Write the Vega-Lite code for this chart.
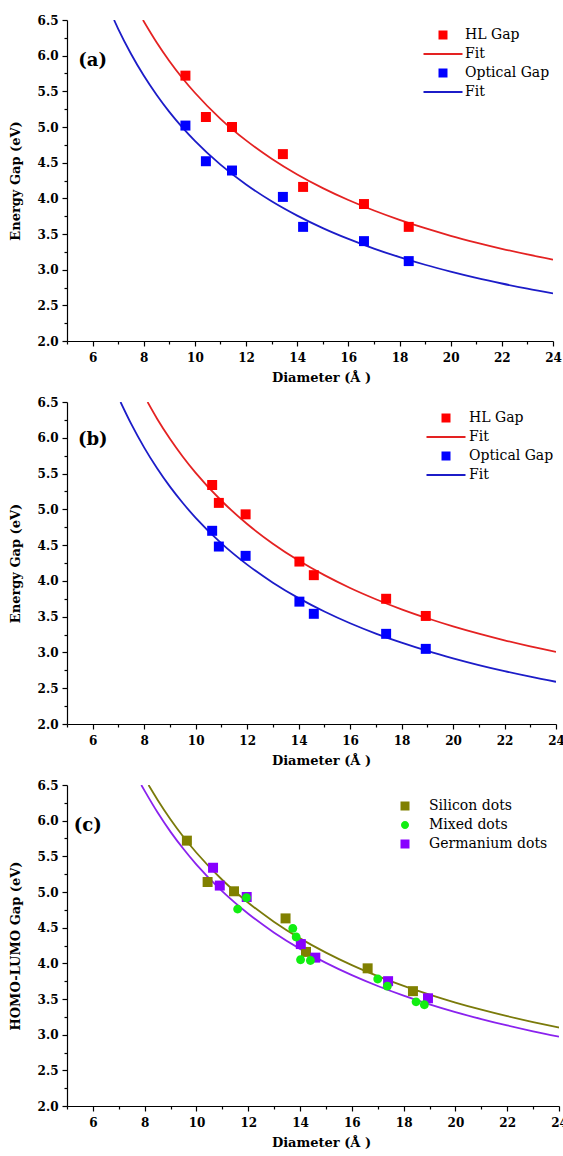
{
  "$schema": "https://vega.github.io/schema/vega-lite/v6.json",
  "padding": {"left": 9, "top": 14, "right": 0, "bottom": 0},
  "background": "white",
  "datasets": {
    "pts": [
      {"panel": "a", "series": "HL Gap", "d": 9.63, "gap": 5.72},
      {"panel": "a", "series": "HL Gap", "d": 10.43, "gap": 5.14},
      {"panel": "a", "series": "HL Gap", "d": 11.45, "gap": 5.0},
      {"panel": "a", "series": "HL Gap", "d": 13.44, "gap": 4.62},
      {"panel": "a", "series": "HL Gap", "d": 14.23, "gap": 4.16},
      {"panel": "a", "series": "HL Gap", "d": 16.61, "gap": 3.92},
      {"panel": "a", "series": "HL Gap", "d": 18.36, "gap": 3.6},
      {"panel": "a", "series": "Optical Gap", "d": 9.63, "gap": 5.02},
      {"panel": "a", "series": "Optical Gap", "d": 10.43, "gap": 4.52},
      {"panel": "a", "series": "Optical Gap", "d": 11.45, "gap": 4.39},
      {"panel": "a", "series": "Optical Gap", "d": 13.44, "gap": 4.02},
      {"panel": "a", "series": "Optical Gap", "d": 14.23, "gap": 3.6},
      {"panel": "a", "series": "Optical Gap", "d": 16.61, "gap": 3.4},
      {"panel": "a", "series": "Optical Gap", "d": 18.36, "gap": 3.12},
      {"panel": "b", "series": "HL Gap", "d": 10.64, "gap": 5.34},
      {"panel": "b", "series": "HL Gap", "d": 10.9, "gap": 5.09},
      {"panel": "b", "series": "HL Gap", "d": 11.94, "gap": 4.93},
      {"panel": "b", "series": "HL Gap", "d": 14.03, "gap": 4.27},
      {"panel": "b", "series": "HL Gap", "d": 14.59, "gap": 4.08},
      {"panel": "b", "series": "HL Gap", "d": 17.4, "gap": 3.75},
      {"panel": "b", "series": "HL Gap", "d": 18.94, "gap": 3.51},
      {"panel": "b", "series": "Optical Gap", "d": 10.64, "gap": 4.7},
      {"panel": "b", "series": "Optical Gap", "d": 10.9, "gap": 4.48},
      {"panel": "b", "series": "Optical Gap", "d": 11.94, "gap": 4.35},
      {"panel": "b", "series": "Optical Gap", "d": 14.03, "gap": 3.71},
      {"panel": "b", "series": "Optical Gap", "d": 14.59, "gap": 3.54},
      {"panel": "b", "series": "Optical Gap", "d": 17.4, "gap": 3.26},
      {"panel": "b", "series": "Optical Gap", "d": 18.94, "gap": 3.05},
      {"panel": "c", "series": "Silicon dots", "d": 9.63, "gap": 5.72},
      {"panel": "c", "series": "Silicon dots", "d": 10.43, "gap": 5.14},
      {"panel": "c", "series": "Silicon dots", "d": 11.45, "gap": 5.01},
      {"panel": "c", "series": "Silicon dots", "d": 13.44, "gap": 4.63},
      {"panel": "c", "series": "Silicon dots", "d": 14.23, "gap": 4.16},
      {"panel": "c", "series": "Silicon dots", "d": 16.61, "gap": 3.93},
      {"panel": "c", "series": "Silicon dots", "d": 18.36, "gap": 3.61},
      {"panel": "c", "series": "Germanium dots", "d": 10.64, "gap": 5.34},
      {"panel": "c", "series": "Germanium dots", "d": 10.9, "gap": 5.09},
      {"panel": "c", "series": "Germanium dots", "d": 11.94, "gap": 4.93},
      {"panel": "c", "series": "Germanium dots", "d": 14.03, "gap": 4.27},
      {"panel": "c", "series": "Germanium dots", "d": 14.59, "gap": 4.08},
      {"panel": "c", "series": "Germanium dots", "d": 17.4, "gap": 3.75},
      {"panel": "c", "series": "Germanium dots", "d": 18.94, "gap": 3.51},
      {"panel": "c", "series": "Mixed dots", "d": 11.59, "gap": 4.76},
      {"panel": "c", "series": "Mixed dots", "d": 11.93, "gap": 4.92},
      {"panel": "c", "series": "Mixed dots", "d": 13.72, "gap": 4.49},
      {"panel": "c", "series": "Mixed dots", "d": 13.85, "gap": 4.37},
      {"panel": "c", "series": "Mixed dots", "d": 14.02, "gap": 4.05},
      {"panel": "c", "series": "Mixed dots", "d": 14.4, "gap": 4.04},
      {"panel": "c", "series": "Mixed dots", "d": 17.0, "gap": 3.78},
      {"panel": "c", "series": "Mixed dots", "d": 17.37, "gap": 3.68},
      {"panel": "c", "series": "Mixed dots", "d": 18.48, "gap": 3.46},
      {"panel": "c", "series": "Mixed dots", "d": 18.8, "gap": 3.42}
    ],
    "fits": [
      {"panel": "a", "series": "Fit_HL", "d": 7.97, "gap": 6.5},
      {"panel": "a", "series": "Fit_HL", "d": 8.5, "gap": 6.188},
      {"panel": "a", "series": "Fit_HL", "d": 9, "gap": 5.926},
      {"panel": "a", "series": "Fit_HL", "d": 9.5, "gap": 5.691},
      {"panel": "a", "series": "Fit_HL", "d": 10, "gap": 5.48},
      {"panel": "a", "series": "Fit_HL", "d": 11, "gap": 5.115},
      {"panel": "a", "series": "Fit_HL", "d": 12, "gap": 4.812},
      {"panel": "a", "series": "Fit_HL", "d": 13, "gap": 4.555},
      {"panel": "a", "series": "Fit_HL", "d": 14, "gap": 4.334},
      {"panel": "a", "series": "Fit_HL", "d": 15, "gap": 4.143},
      {"panel": "a", "series": "Fit_HL", "d": 16, "gap": 3.976},
      {"panel": "a", "series": "Fit_HL", "d": 17, "gap": 3.829},
      {"panel": "a", "series": "Fit_HL", "d": 18, "gap": 3.698},
      {"panel": "a", "series": "Fit_HL", "d": 19, "gap": 3.581},
      {"panel": "a", "series": "Fit_HL", "d": 20, "gap": 3.475},
      {"panel": "a", "series": "Fit_HL", "d": 21, "gap": 3.38},
      {"panel": "a", "series": "Fit_HL", "d": 22, "gap": 3.293},
      {"panel": "a", "series": "Fit_HL", "d": 23, "gap": 3.213},
      {"panel": "a", "series": "Fit_HL", "d": 24, "gap": 3.141},
      {"panel": "a", "series": "Fit_Opt", "d": 6.84, "gap": 6.5},
      {"panel": "a", "series": "Fit_Opt", "d": 7, "gap": 6.376},
      {"panel": "a", "series": "Fit_Opt", "d": 7.5, "gap": 6.027},
      {"panel": "a", "series": "Fit_Opt", "d": 8, "gap": 5.721},
      {"panel": "a", "series": "Fit_Opt", "d": 8.5, "gap": 5.452},
      {"panel": "a", "series": "Fit_Opt", "d": 9, "gap": 5.212},
      {"panel": "a", "series": "Fit_Opt", "d": 9.5, "gap": 4.998},
      {"panel": "a", "series": "Fit_Opt", "d": 10, "gap": 4.805},
      {"panel": "a", "series": "Fit_Opt", "d": 11, "gap": 4.472},
      {"panel": "a", "series": "Fit_Opt", "d": 12, "gap": 4.194},
      {"panel": "a", "series": "Fit_Opt", "d": 13, "gap": 3.959},
      {"panel": "a", "series": "Fit_Opt", "d": 14, "gap": 3.758},
      {"panel": "a", "series": "Fit_Opt", "d": 15, "gap": 3.583},
      {"panel": "a", "series": "Fit_Opt", "d": 16, "gap": 3.431},
      {"panel": "a", "series": "Fit_Opt", "d": 17, "gap": 3.296},
      {"panel": "a", "series": "Fit_Opt", "d": 18, "gap": 3.176},
      {"panel": "a", "series": "Fit_Opt", "d": 19, "gap": 3.069},
      {"panel": "a", "series": "Fit_Opt", "d": 20, "gap": 2.973},
      {"panel": "a", "series": "Fit_Opt", "d": 21, "gap": 2.885},
      {"panel": "a", "series": "Fit_Opt", "d": 22, "gap": 2.806},
      {"panel": "a", "series": "Fit_Opt", "d": 23, "gap": 2.733},
      {"panel": "a", "series": "Fit_Opt", "d": 24, "gap": 2.667},
      {"panel": "b", "series": "Fit_HL", "d": 8.13, "gap": 6.5},
      {"panel": "b", "series": "Fit_HL", "d": 8.5, "gap": 6.267},
      {"panel": "b", "series": "Fit_HL", "d": 9, "gap": 5.987},
      {"panel": "b", "series": "Fit_HL", "d": 9.5, "gap": 5.736},
      {"panel": "b", "series": "Fit_HL", "d": 10, "gap": 5.51},
      {"panel": "b", "series": "Fit_HL", "d": 11, "gap": 5.12},
      {"panel": "b", "series": "Fit_HL", "d": 12, "gap": 4.795},
      {"panel": "b", "series": "Fit_HL", "d": 13, "gap": 4.52},
      {"panel": "b", "series": "Fit_HL", "d": 14, "gap": 4.284},
      {"panel": "b", "series": "Fit_HL", "d": 15, "gap": 4.08},
      {"panel": "b", "series": "Fit_HL", "d": 16, "gap": 3.901},
      {"panel": "b", "series": "Fit_HL", "d": 17, "gap": 3.744},
      {"panel": "b", "series": "Fit_HL", "d": 18, "gap": 3.603},
      {"panel": "b", "series": "Fit_HL", "d": 19, "gap": 3.478},
      {"panel": "b", "series": "Fit_HL", "d": 20, "gap": 3.365},
      {"panel": "b", "series": "Fit_HL", "d": 21, "gap": 3.263},
      {"panel": "b", "series": "Fit_HL", "d": 22, "gap": 3.17},
      {"panel": "b", "series": "Fit_HL", "d": 23, "gap": 3.085},
      {"panel": "b", "series": "Fit_HL", "d": 24, "gap": 3.008},
      {"panel": "b", "series": "Fit_Opt", "d": 7.08, "gap": 6.5},
      {"panel": "b", "series": "Fit_Opt", "d": 7.5, "gap": 6.19},
      {"panel": "b", "series": "Fit_Opt", "d": 8, "gap": 5.863},
      {"panel": "b", "series": "Fit_Opt", "d": 8.5, "gap": 5.574},
      {"panel": "b", "series": "Fit_Opt", "d": 9, "gap": 5.317},
      {"panel": "b", "series": "Fit_Opt", "d": 9.5, "gap": 5.088},
      {"panel": "b", "series": "Fit_Opt", "d": 10, "gap": 4.881},
      {"panel": "b", "series": "Fit_Opt", "d": 11, "gap": 4.524},
      {"panel": "b", "series": "Fit_Opt", "d": 12, "gap": 4.227},
      {"panel": "b", "series": "Fit_Opt", "d": 13, "gap": 3.975},
      {"panel": "b", "series": "Fit_Opt", "d": 14, "gap": 3.759},
      {"panel": "b", "series": "Fit_Opt", "d": 15, "gap": 3.572},
      {"panel": "b", "series": "Fit_Opt", "d": 16, "gap": 3.408},
      {"panel": "b", "series": "Fit_Opt", "d": 17, "gap": 3.264},
      {"panel": "b", "series": "Fit_Opt", "d": 18, "gap": 3.136},
      {"panel": "b", "series": "Fit_Opt", "d": 19, "gap": 3.021},
      {"panel": "b", "series": "Fit_Opt", "d": 20, "gap": 2.918},
      {"panel": "b", "series": "Fit_Opt", "d": 21, "gap": 2.824},
      {"panel": "b", "series": "Fit_Opt", "d": 22, "gap": 2.739},
      {"panel": "b", "series": "Fit_Opt", "d": 23, "gap": 2.661},
      {"panel": "b", "series": "Fit_Opt", "d": 24, "gap": 2.59},
      {"panel": "c", "series": "Si fit", "d": 8.15, "gap": 6.5},
      {"panel": "c", "series": "Si fit", "d": 8.5, "gap": 6.291},
      {"panel": "c", "series": "Si fit", "d": 9, "gap": 6.017},
      {"panel": "c", "series": "Si fit", "d": 9.5, "gap": 5.771},
      {"panel": "c", "series": "Si fit", "d": 10, "gap": 5.55},
      {"panel": "c", "series": "Si fit", "d": 11, "gap": 5.168},
      {"panel": "c", "series": "Si fit", "d": 12, "gap": 4.85},
      {"panel": "c", "series": "Si fit", "d": 13, "gap": 4.581},
      {"panel": "c", "series": "Si fit", "d": 14, "gap": 4.35},
      {"panel": "c", "series": "Si fit", "d": 15, "gap": 4.15},
      {"panel": "c", "series": "Si fit", "d": 16, "gap": 3.975},
      {"panel": "c", "series": "Si fit", "d": 17, "gap": 3.821},
      {"panel": "c", "series": "Si fit", "d": 18, "gap": 3.683},
      {"panel": "c", "series": "Si fit", "d": 19, "gap": 3.561},
      {"panel": "c", "series": "Si fit", "d": 20, "gap": 3.45},
      {"panel": "c", "series": "Si fit", "d": 21, "gap": 3.35},
      {"panel": "c", "series": "Si fit", "d": 22, "gap": 3.259},
      {"panel": "c", "series": "Si fit", "d": 23, "gap": 3.176},
      {"panel": "c", "series": "Si fit", "d": 24, "gap": 3.1},
      {"panel": "c", "series": "Ge fit", "d": 7.87, "gap": 6.5},
      {"panel": "c", "series": "Ge fit", "d": 8, "gap": 6.418},
      {"panel": "c", "series": "Ge fit", "d": 8.5, "gap": 6.114},
      {"panel": "c", "series": "Ge fit", "d": 9, "gap": 5.843},
      {"panel": "c", "series": "Ge fit", "d": 9.5, "gap": 5.602},
      {"panel": "c", "series": "Ge fit", "d": 10, "gap": 5.384},
      {"panel": "c", "series": "Ge fit", "d": 11, "gap": 5.008},
      {"panel": "c", "series": "Ge fit", "d": 12, "gap": 4.695},
      {"panel": "c", "series": "Ge fit", "d": 13, "gap": 4.43},
      {"panel": "c", "series": "Ge fit", "d": 14, "gap": 4.203},
      {"panel": "c", "series": "Ge fit", "d": 15, "gap": 4.006},
      {"panel": "c", "series": "Ge fit", "d": 16, "gap": 3.834},
      {"panel": "c", "series": "Ge fit", "d": 17, "gap": 3.682},
      {"panel": "c", "series": "Ge fit", "d": 18, "gap": 3.547},
      {"panel": "c", "series": "Ge fit", "d": 19, "gap": 3.426},
      {"panel": "c", "series": "Ge fit", "d": 20, "gap": 3.317},
      {"panel": "c", "series": "Ge fit", "d": 21, "gap": 3.219},
      {"panel": "c", "series": "Ge fit", "d": 22, "gap": 3.129},
      {"panel": "c", "series": "Ge fit", "d": 23, "gap": 3.047},
      {"panel": "c", "series": "Ge fit", "d": 24, "gap": 2.973}
    ],
    "labels": [
      {"panel": "a", "d": 6.0, "gap": 5.93, "label": "(a)"},
      {"panel": "b", "d": 6.0, "gap": 5.975, "label": "(b)"},
      {"panel": "c", "d": 5.8, "gap": 5.93, "label": "(c)"}
    ]
  },
  "vconcat": [
    {
      "width": 486, "height": 321,
      "layer": [
        {
          "data": {"name": "fits"},
          "transform": [{"filter": "datum.panel == 'a'"}],
          "mark": {"type": "line", "strokeWidth": 1.8, "interpolate": "monotone", "clip": true},
          "encoding": {
            "x": {"field": "d", "type": "quantitative", "scale": {"domain": [5, 24], "nice": false, "zero": false}, "axis": null},
            "y": {"field": "gap", "type": "quantitative", "scale": {"domain": [2, 6.5], "nice": false, "zero": false}, "axis": null},
            "color": {"field": "series", "type": "nominal",
                      "scale": {"domain": ["HL Gap", "Fit_HL", "Optical Gap", "Fit_Opt"], "range": ["#ff0000", "#e42222", "#0000ff", "#1c1cc8"]},
                      "legend": {"orient": "none", "legendX": 369, "legendY": 8, "title": null, "labelOffset": 15, "labelExpr": "indexof(datum.label, 'Fit') == 0 ? 'Fit' : datum.label"}}
          }
        },
        {
          "data": {"name": "pts"},
          "transform": [{"filter": "datum.panel == 'a'"}],
          "mark": {"type": "point", "filled": true, "size": 123, "opacity": 1, "strokeWidth": 0},
          "encoding": {
            "x": {"field": "d", "type": "quantitative",
                  "axis": {"orient": "bottom", "values": [5, 6, 7, 8, 9, 10, 11, 12, 13, 14, 15, 16, 17, 18, 19, 20, 21, 22, 23, 24], "labelExpr": "datum.value % 2 == 0 ? datum.label : ''", "tickSize": {"condition": {"test": "datum.value % 2 == 1", "value": 3}, "value": 5}, "title": "Diameter (Å )", "titleX": 254}},
            "y": {"field": "gap", "type": "quantitative",
                  "axis": {"orient": "left", "values": [2, 2.25, 2.5, 2.75, 3, 3.25, 3.5, 3.75, 4, 4.25, 4.5, 4.75, 5, 5.25, 5.5, 5.75, 6, 6.25, 6.5], "format": ".1f", "labelExpr": "(datum.value * 2) % 1 == 0 ? datum.label : ''", "tickSize": {"condition": {"test": "(datum.value * 2) % 1 != 0", "value": 3}, "value": 5}, "title": "Energy Gap (eV)"}},
            "color": {"field": "series", "type": "nominal",
                      "scale": {"domain": ["HL Gap", "Fit_HL", "Optical Gap", "Fit_Opt"], "range": ["#ff0000", "#e42222", "#0000ff", "#1c1cc8"]},
                      "legend": {"orient": "none", "legendX": 369, "legendY": 8, "title": null, "labelOffset": 15, "labelExpr": "indexof(datum.label, 'Fit') == 0 ? 'Fit' : datum.label"}},
            "shape": {"field": "series", "type": "nominal",
                      "scale": {"domain": ["HL Gap", "Fit_HL", "Optical Gap", "Fit_Opt"], "range": ["M-0.9,-0.9H0.9V0.9H-0.9Z", "M-3.9,-0.22H3.9V0.22H-3.9Z", "M-0.9,-0.9H0.9V0.9H-0.9Z", "M-3.9,-0.22H3.9V0.22H-3.9Z"]},
                      "legend": {"orient": "none", "legendX": 369, "legendY": 8, "title": null, "labelOffset": 15, "labelExpr": "indexof(datum.label, 'Fit') == 0 ? 'Fit' : datum.label"}}
          }
        },
        {
          "data": {"name": "labels"},
          "transform": [{"filter": "datum.panel == 'a'"}],
          "mark": {"type": "text", "font": "DejaVu Serif", "fontWeight": "bold", "fontSize": 18, "color": "black"},
          "encoding": {
            "x": {"field": "d", "type": "quantitative", "axis": null},
            "y": {"field": "gap", "type": "quantitative", "axis": null},
            "text": {"field": "label"}
          }
        }
      ],
      "resolve": {"axis": {"x": "independent", "y": "independent"}}
    },
    {
      "width": 489, "height": 322,
      "layer": [
        {
          "data": {"name": "fits"},
          "transform": [{"filter": "datum.panel == 'b'"}],
          "mark": {"type": "line", "strokeWidth": 1.8, "interpolate": "monotone", "clip": true},
          "encoding": {
            "x": {"field": "d", "type": "quantitative", "scale": {"domain": [5, 24], "nice": false, "zero": false}, "axis": null},
            "y": {"field": "gap", "type": "quantitative", "scale": {"domain": [2, 6.5], "nice": false, "zero": false}, "axis": null},
            "color": {"field": "series", "type": "nominal",
                      "scale": {"domain": ["HL Gap", "Fit_HL", "Optical Gap", "Fit_Opt"], "range": ["#ff0000", "#e42222", "#0000ff", "#1c1cc8"]},
                      "legend": {"orient": "none", "legendX": 372, "legendY": 9, "title": null, "labelOffset": 16, "labelExpr": "indexof(datum.label, 'Fit') == 0 ? 'Fit' : datum.label"}}
          }
        },
        {
          "data": {"name": "pts"},
          "transform": [{"filter": "datum.panel == 'b'"}],
          "mark": {"type": "point", "filled": true, "size": 123, "opacity": 1, "strokeWidth": 0},
          "encoding": {
            "x": {"field": "d", "type": "quantitative",
                  "axis": {"orient": "bottom", "values": [5, 6, 7, 8, 9, 10, 11, 12, 13, 14, 15, 16, 17, 18, 19, 20, 21, 22, 23, 24], "labelExpr": "datum.value % 2 == 0 ? datum.label : ''", "tickSize": {"condition": {"test": "datum.value % 2 == 1", "value": 3}, "value": 5}, "title": "Diameter (Å )", "titleX": 254}},
            "y": {"field": "gap", "type": "quantitative",
                  "axis": {"orient": "left", "values": [2, 2.25, 2.5, 2.75, 3, 3.25, 3.5, 3.75, 4, 4.25, 4.5, 4.75, 5, 5.25, 5.5, 5.75, 6, 6.25, 6.5], "format": ".1f", "labelExpr": "(datum.value * 2) % 1 == 0 ? datum.label : ''", "tickSize": {"condition": {"test": "(datum.value * 2) % 1 != 0", "value": 3}, "value": 5}, "title": "Energy Gap (eV)"}},
            "color": {"field": "series", "type": "nominal",
                      "scale": {"domain": ["HL Gap", "Fit_HL", "Optical Gap", "Fit_Opt"], "range": ["#ff0000", "#e42222", "#0000ff", "#1c1cc8"]},
                      "legend": {"orient": "none", "legendX": 372, "legendY": 9, "title": null, "labelOffset": 16, "labelExpr": "indexof(datum.label, 'Fit') == 0 ? 'Fit' : datum.label"}},
            "shape": {"field": "series", "type": "nominal",
                      "scale": {"domain": ["HL Gap", "Fit_HL", "Optical Gap", "Fit_Opt"], "range": ["M-0.9,-0.9H0.9V0.9H-0.9Z", "M-3.9,-0.22H3.9V0.22H-3.9Z", "M-0.9,-0.9H0.9V0.9H-0.9Z", "M-3.9,-0.22H3.9V0.22H-3.9Z"]},
                      "legend": {"orient": "none", "legendX": 372, "legendY": 9, "title": null, "labelOffset": 16, "labelExpr": "indexof(datum.label, 'Fit') == 0 ? 'Fit' : datum.label"}}
          }
        },
        {
          "data": {"name": "labels"},
          "transform": [{"filter": "datum.panel == 'b'"}],
          "mark": {"type": "text", "font": "DejaVu Serif", "fontWeight": "bold", "fontSize": 18, "color": "black"},
          "encoding": {
            "x": {"field": "d", "type": "quantitative", "axis": null},
            "y": {"field": "gap", "type": "quantitative", "axis": null},
            "text": {"field": "label"}
          }
        }
      ],
      "resolve": {"axis": {"x": "independent", "y": "independent"}}
    },
    {
      "width": 492, "height": 321,
      "layer": [
        {
          "data": {"name": "fits"},
          "transform": [{"filter": "datum.panel == 'c'"}],
          "mark": {"type": "line", "strokeWidth": 1.8, "interpolate": "monotone", "clip": true},
          "encoding": {
            "x": {"field": "d", "type": "quantitative", "scale": {"domain": [5, 24], "nice": false, "zero": false}, "axis": null},
            "y": {"field": "gap", "type": "quantitative", "scale": {"domain": [2, 6.5], "nice": false, "zero": false}, "axis": null},
            "color": {"field": "series", "type": "nominal",
                      "scale": {"domain": ["Silicon dots", "Mixed dots", "Germanium dots", "Si fit", "Ge fit"], "range": ["#808000", "#11ee11", "#8800ff", "#7a7a0a", "#8a22ee"]},
                      "legend": {"orient": "none", "legendX": 331, "legendY": 14, "title": null, "labelOffset": 17, "values": ["Silicon dots", "Mixed dots", "Germanium dots"]}}
          }
        },
        {
          "data": {"name": "pts"},
          "transform": [{"filter": "datum.panel == 'c'"}],
          "mark": {"type": "point", "filled": true, "size": 123, "opacity": 1, "strokeWidth": 0},
          "encoding": {
            "x": {"field": "d", "type": "quantitative",
                  "axis": {"orient": "bottom", "values": [5, 6, 7, 8, 9, 10, 11, 12, 13, 14, 15, 16, 17, 18, 19, 20, 21, 22, 23, 24], "labelExpr": "datum.value % 2 == 0 ? datum.label : ''", "tickSize": {"condition": {"test": "datum.value % 2 == 1", "value": 3}, "value": 5}, "title": "Diameter (Å )", "titleX": 254}},
            "y": {"field": "gap", "type": "quantitative",
                  "axis": {"orient": "left", "values": [2, 2.25, 2.5, 2.75, 3, 3.25, 3.5, 3.75, 4, 4.25, 4.5, 4.75, 5, 5.25, 5.5, 5.75, 6, 6.25, 6.5], "format": ".1f", "labelExpr": "(datum.value * 2) % 1 == 0 ? datum.label : ''", "tickSize": {"condition": {"test": "(datum.value * 2) % 1 != 0", "value": 3}, "value": 5}, "title": "HOMO-LUMO Gap (eV)"}},
            "color": {"field": "series", "type": "nominal",
                      "scale": {"domain": ["Silicon dots", "Mixed dots", "Germanium dots", "Si fit", "Ge fit"], "range": ["#808000", "#11ee11", "#8800ff", "#7a7a0a", "#8a22ee"]},
                      "legend": {"orient": "none", "legendX": 331, "legendY": 14, "title": null, "labelOffset": 17, "values": ["Silicon dots", "Mixed dots", "Germanium dots"]}},
            "shape": {"field": "series", "type": "nominal",
                      "scale": {"domain": ["Silicon dots", "Mixed dots", "Germanium dots", "Si fit", "Ge fit"], "range": ["M-0.9,-0.9H0.9V0.9H-0.9Z", "M0.8,0A0.8,0.8,0,1,1,-0.8,0A0.8,0.8,0,1,1,0.8,0Z", "M-0.9,-0.9H0.9V0.9H-0.9Z", "M-0.9,-0.9H0.9V0.9H-0.9Z", "M-0.9,-0.9H0.9V0.9H-0.9Z"]},
                      "legend": {"orient": "none", "legendX": 331, "legendY": 14, "title": null, "labelOffset": 17, "values": ["Silicon dots", "Mixed dots", "Germanium dots"]}}
          }
        },
        {
          "data": {"name": "labels"},
          "transform": [{"filter": "datum.panel == 'c'"}],
          "mark": {"type": "text", "font": "DejaVu Serif", "fontWeight": "bold", "fontSize": 18, "color": "black"},
          "encoding": {
            "x": {"field": "d", "type": "quantitative", "axis": null},
            "y": {"field": "gap", "type": "quantitative", "axis": null},
            "text": {"field": "label"}
          }
        }
      ],
      "resolve": {"axis": {"x": "independent", "y": "independent"}}
    }
  ],
  "spacing": 61,
  "bounds": "flush",
  "resolve": {
    "scale": {"color": "independent", "shape": "independent", "x": "independent", "y": "independent"},
    "legend": {"color": "independent", "shape": "independent"}
  },
  "config": {
    "view": {"stroke": null},
    "axis": {
      "grid": false,
      "labelFont": "DejaVu Serif", "labelFontWeight": "bold", "labelFontSize": 12, "labelColor": "black",
      "labelFlush": false, "labelOverlap": false, "labelPadding": 4,
      "titleFont": "DejaVu Serif", "titleFontWeight": "bold", "titleFontSize": 13, "titleColor": "black",
      "domainColor": "black", "domainWidth": 1.2, "tickColor": "black", "tickWidth": 1.2
    },
    "axisX": {"titlePadding": 8, "labelPadding": 6},
    "axisY": {"titlePadding": 15},
    "legend": {
      "labelFont": "DejaVu Serif", "labelFontSize": 14, "labelColor": "black",
      "symbolSize": 100, "rowPadding": 5, "padding": 0, "symbolStrokeWidth": 0, "symbolOpacity": 1
    }
  }
}
